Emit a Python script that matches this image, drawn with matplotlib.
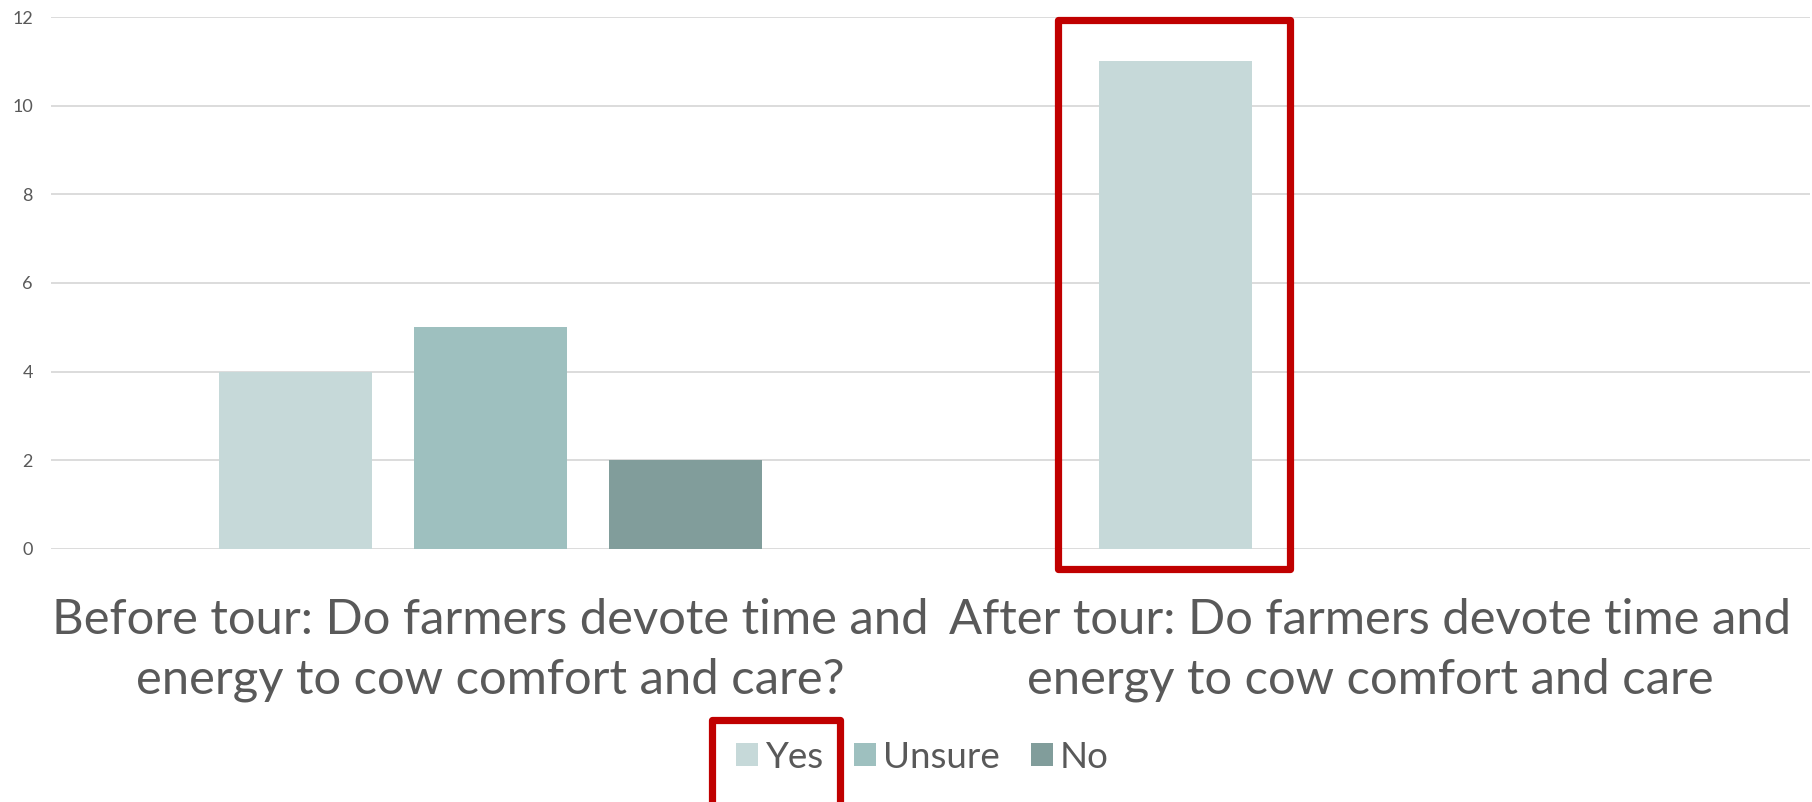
import matplotlib.pyplot as plt
from matplotlib.patches import Rectangle
import numpy as np

plt.rcParams['font.family'] = ['Lato', 'DejaVu Sans']

categories = ["Before tour: Do farmers devote time and\nenergy to cow comfort and care?",
              "After tour: Do farmers devote time and\nenergy to cow comfort and care"]
series = ["Yes", "Unsure", "No"]
yes_vals = [4, 11]
unsure_vals = [5, 0]
no_vals = [2, 0]
colors = ["#c6d9d9", "#9ec0bf", "#819d9b"]

text_c = "#595959"
red = "#c00000"

fig = plt.figure(figsize=(18.12, 8.02), dpi=100)
ax = fig.add_axes([0.0281, 0.3155, 0.9709, 0.6633])

x = np.arange(len(categories))
w = 0.174
step = 0.2217
for i, (name, vals, c) in enumerate(zip(series, [yes_vals, unsure_vals, no_vals], colors)):
    ax.bar(x + (i - 1) * step, vals, width=w, color=c, label=name, zorder=2)

ax.set_xlim(-0.5, 1.5)
ax.set_ylim(0, 12)
ax.set_yticks(range(0, 13, 2))
ax.grid(axis="y", color="#d9d9d9", linewidth=1.3, zorder=0)
for s in ax.spines.values():
    s.set_visible(False)
ax.tick_params(axis="y", length=0, labelsize=13, labelcolor=text_c, pad=13)
ax.tick_params(axis="x", length=0, labelsize=35.3, labelcolor=text_c, pad=35)
ax.set_xticks(x)
ax.set_xticklabels(categories, linespacing=1.43)

# highlight box around the after-tour bar
ax.add_patch(Rectangle((0.645, -0.45), 0.264, 12.38, fill=False, edgecolor=red,
                       linewidth=5.2, clip_on=False, zorder=5, joinstyle="round"))

leg = fig.legend(loc="center", bbox_to_anchor=(0.509, 0.056), ncol=3, frameon=False,
                 fontsize=26.5, handlelength=0.6, handleheight=0.6, handletextpad=0.18,
                 columnspacing=0.85, labelcolor=text_c)

# highlight box around the "Yes" legend entry
fig.add_artist(Rectangle((712 / 1812, -0.02), 128 / 1812, (802 - 720) / 802 + 0.02,
                         transform=fig.transFigure, fill=False, edgecolor=red,
                         linewidth=5.2, clip_on=False, joinstyle="round"))

fig.savefig("out.png", dpi=100)
